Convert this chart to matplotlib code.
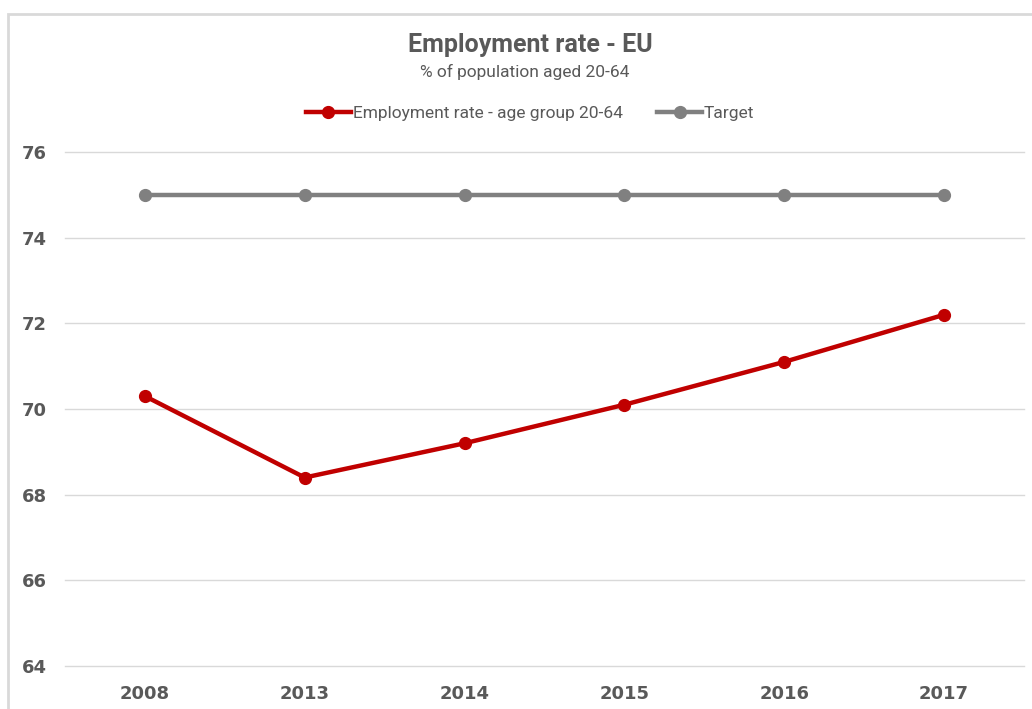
import numpy as np
import matplotlib
matplotlib.use("Agg")
import matplotlib.pyplot as plt
from matplotlib.lines import Line2D
from matplotlib.patches import Rectangle

# data
years = ["2008", "2013", "2014", "2015", "2016", "2017"]
employment = [70.3, 68.4, 69.2, 70.1, 71.1, 72.2]
target = [75, 75, 75, 75, 75, 75]
y_ticks = [64, 66, 68, 70, 72, 74, 76]

red = "#C00000"
grey = "#808080"
txt = "#595959"
narrow = ["Liberation Sans Narrow", "Roboto", "DejaVu Sans"]

W, H = 1032, 709
fig = plt.figure(figsize=(W / 100, H / 100), dpi=100)
fig.patch.set_facecolor("white")

# light frame round the chart area (cut off on right and bottom)
fig.patches.append(Rectangle((8 / W, -0.05), 1.2, 1 - 14 / H + 0.05,
                             transform=fig.transFigure, fill=False,
                             edgecolor="#d9d9d9", linewidth=2))

ax = fig.add_axes([65 / W, 1 - 666 / H, (1024 - 65) / W, (666 - 152) / H])
x = np.arange(len(years))

ax.plot(x, target, color=grey, lw=3.2, marker="o", ms=8.5,
        solid_capstyle="round", zorder=3)
ax.plot(x, employment, color=red, lw=3.2, marker="o", ms=8.5,
        solid_capstyle="round", zorder=4)

ax.set_xlim(-0.5, len(years) - 0.5)
ax.set_ylim(64, 76)
ax.set_yticks(y_ticks)
ax.set_yticklabels([str(v) for v in y_ticks])
ax.set_xticks(x)
ax.set_xticklabels(years)
ax.grid(axis="y", color="#d9d9d9", lw=1)
for gl in ax.get_ygridlines():
    gl.set_clip_on(False)
ax.set_axisbelow(True)
for s in ax.spines.values():
    s.set_visible(False)
ax.tick_params(length=0)
ax.tick_params(axis="y", pad=13)
ax.tick_params(axis="x", pad=14)
for lab in ax.get_yticklabels() + ax.get_xticklabels():
    lab.set_fontweight("bold")
    lab.set_fontsize(13)
    lab.set_color(txt)
    lab.set_family(["DejaVu Sans"])

fig.text(530 / W, 1 - 45 / H, "Employment rate - EU", ha="center", va="center",
         fontsize=18, fontweight="bold", color=txt, family=narrow)
fig.text(525 / W, 1 - 72 / H, "% of population aged 20-64", ha="center",
         va="center", fontsize=12.5, color=txt, family=narrow)

handles = [Line2D([], [], color=red, lw=3.2, marker="o", ms=8.5),
           Line2D([], [], color=grey, lw=3.2, marker="o", ms=8.5)]
leg = fig.legend(handles, ["Employment rate - age group 20-64", "Target"],
                 loc="center", bbox_to_anchor=(530 / W, 1 - 113 / H), ncol=2,
                 frameon=False, handlelength=2.6, handletextpad=0.1,
                 columnspacing=2.0, prop={"family": narrow, "size": 12.5})
for t in leg.get_texts():
    t.set_color(txt)

fig.savefig("out.png", dpi=100)
